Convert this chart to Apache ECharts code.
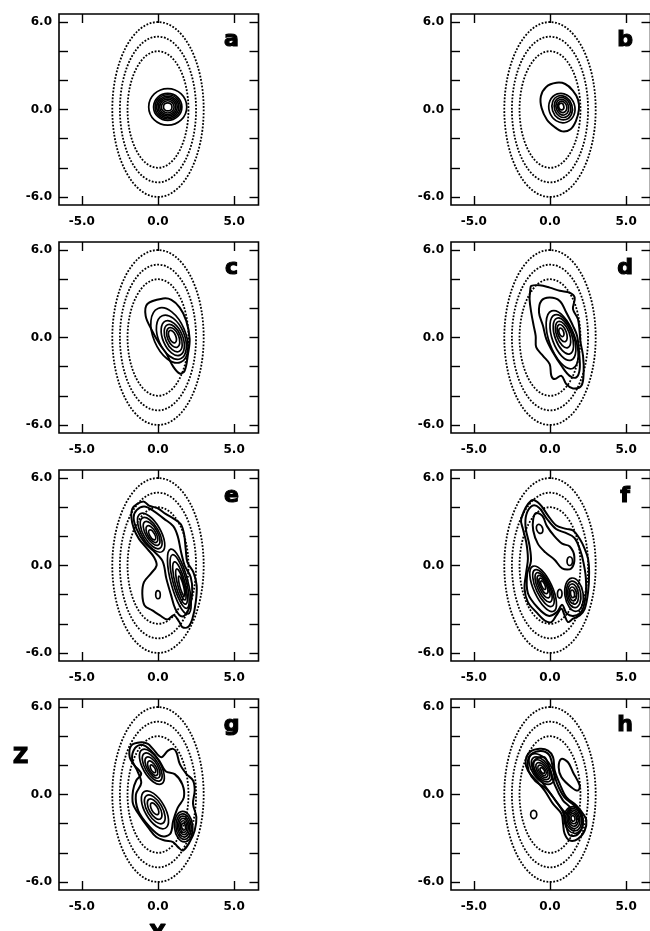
<!DOCTYPE html>
<html>
<head>
<meta charset="utf-8">
<script src="https://cdn.jsdelivr.net/npm/echarts@6/dist/echarts.min.js"></script>
<style>
  html, body { margin: 0; padding: 0; background: #fff; }
  #chart { width: 650px; height: 931px; }
</style>
</head>
<body>
<div id="chart"></div>
<script>
// axis ticks / labels (Y horizontal, Z vertical)
const xTicks = [-5, 0, 5];
const xLabels = [-5, 0, 5];
const yTicks = [-6, -4, -2, 0, 2, 4, 6];
const yLabels = [-6, 0, 6];
const panelNames = ['a', 'b', 'c', 'd', 'e', 'f', 'g', 'h'];

// dotted reference ellipses: [centerY, centerZ, halfWidth, halfHeight, tiltDeg]
const guideEllipses = [[0, 0, 3, 6, 0], [0, 0, 2.5, 5, 0], [0, 0, 2, 4, 0]];

// nested contour rings: [centerY, centerZ, halfWidth, halfHeight, tiltDeg]
const ringsA = [[0.64, 0.18, 1.25, 1.25, 0], [0.64, 0.18, 0.93, 0.93, 0], [0.64, 0.18, 0.83, 0.83, 0],
  [0.64, 0.18, 0.73, 0.73, 0], [0.64, 0.18, 0.63, 0.63, 0], [0.64, 0.18, 0.53, 0.53, 0],
  [0.64, 0.18, 0.42, 0.42, 0], [0.64, 0.18, 0.28, 0.28, 0]];
const ringsB = [[0.78, 0.1, 0.85, 1.02, 18], [0.8, 0.12, 0.66, 0.85, 18], [0.82, 0.14, 0.53, 0.7, 18],
  [0.81, 0.16, 0.41, 0.55, 18], [0.8, 0.18, 0.3, 0.4, 18], [0.74, 0.2, 0.17, 0.23, 15]];
const ringsC = [[0.75, 0.15, 1.05, 2.0, 23], [0.88, 0.02, 0.85, 1.6, 23], [0.97, -0.04, 0.65, 1.27, 23],
  [1.0, -0.04, 0.5, 1.0, 23], [1.0, 0.0, 0.37, 0.72, 23], [0.95, 0.06, 0.22, 0.46, 23]];
const ringsD = [[0.8, -0.15, 0.85, 2.1, 20], [0.85, 0.0, 0.7, 1.65, 20], [0.88, 0.1, 0.55, 1.3, 20],
  [0.86, 0.2, 0.42, 0.95, 20], [0.8, 0.3, 0.28, 0.62, 20], [0.75, 0.35, 0.15, 0.3, 20]];
const ringsE = [[-0.45, 2.25, 0.62, 1.5, 30], [-0.45, 2.22, 0.5, 1.2, 30], [-0.42, 2.2, 0.38, 0.92, 30],
  [-0.4, 2.15, 0.27, 0.65, 30], [-0.38, 2.1, 0.16, 0.38, 30],
  [1.4, -1.1, 0.55, 2.3, 15], [1.42, -1.1, 0.43, 1.9, 15], [1.45, -1.2, 0.32, 1.5, 15],
  [1.5, -1.3, 0.21, 1.1, 15], [1.55, -1.4, 0.12, 0.7, 15], [0.0, -2.0, 0.15, 0.28, 0]];
const ringsF = [[-0.68, 2.51, 0.2, 0.32, 20], [1.3, 0.3, 0.18, 0.3, 0], [0.64, -1.94, 0.15, 0.3, 0],
  [-0.45, -1.6, 0.6, 1.7, 25], [-0.43, -1.55, 0.48, 1.38, 25], [-0.42, -1.5, 0.38, 1.1, 25],
  [-0.42, -1.45, 0.29, 0.84, 25], [-0.43, -1.4, 0.2, 0.58, 25], [-0.45, -1.35, 0.11, 0.32, 25],
  [1.58, -2.0, 0.6, 1.15, 8], [1.55, -1.98, 0.47, 0.92, 8], [1.52, -1.96, 0.35, 0.7, 8],
  [1.5, -1.95, 0.24, 0.48, 8], [1.48, -1.94, 0.13, 0.26, 8]];
const ringsG = [[-0.4, 1.9, 0.58, 1.35, 30], [-0.38, 1.88, 0.46, 1.08, 30], [-0.36, 1.85, 0.35, 0.82, 30],
  [-0.35, 1.8, 0.24, 0.56, 30], [-0.33, 1.76, 0.13, 0.3, 30],
  [-0.2, -1.05, 0.65, 1.45, 30], [-0.21, -1.02, 0.5, 1.1, 30], [-0.22, -1.0, 0.35, 0.78, 30],
  [-0.22, -0.98, 0.2, 0.45, 30],
  [1.68, -2.2, 0.6, 1.05, 5], [1.68, -2.2, 0.5, 0.88, 5], [1.68, -2.2, 0.4, 0.72, 5],
  [1.68, -2.2, 0.31, 0.56, 5], [1.68, -2.2, 0.22, 0.4, 5], [1.68, -2.2, 0.13, 0.24, 5]];
const ringsH = [[-0.55, 1.75, 0.62, 1.2, 35], [-0.55, 1.72, 0.5, 0.98, 35], [-0.54, 1.7, 0.4, 0.78, 35],
  [-0.53, 1.68, 0.3, 0.58, 35], [-0.52, 1.66, 0.2, 0.4, 35], [-0.5, 1.64, 0.11, 0.22, 35],
  [1.55, -1.75, 0.62, 0.92, 10], [1.55, -1.72, 0.52, 0.78, 10], [1.54, -1.7, 0.42, 0.64, 10],
  [1.53, -1.68, 0.33, 0.5, 10], [1.52, -1.66, 0.23, 0.35, 10], [1.51, -1.64, 0.13, 0.2, 10],
  [-1.07, -1.37, 0.2, 0.28, 0]];

// irregular contour lines, as closed [Y, Z] loops
const loopsA = [];
const loopsB = [
  [[0.42, 1.83], [1.0, 1.75], [1.5, 1.3], [1.84, 0.68], [1.9, 0.0], [1.7, -0.8], [1.35, -1.35],
   [0.81, -1.5], [0.3, -1.2], [-0.2, -0.7], [-0.55, 0.1], [-0.6, 0.9], [-0.25, 1.55]]
];
const loopsC = [
  [[0.33, 2.67], [0.88, 2.58], [1.43, 2.05], [1.86, 1.14], [2.08, -0.11], [1.97, -1.14], [1.75, -2.28],
   [1.43, -2.47], [1.0, -2.0], [0.55, -1.1], [0.11, -0.46], [-0.44, 0.57], [-0.81, 1.48], [-0.7, 2.3]]
];
const loopsD = [
  [[-1.23, 3.54], [-0.68, 3.58], [-0.02, 3.42], [0.64, 3.2], [1.29, 3.08], [1.62, 2.74], [1.51, 1.94],
   [1.84, 1.26], [1.95, 0.34], [2.0, -0.3], [2.17, -1.26], [2.21, -2.4], [2.06, -3.31], [1.51, -3.49],
   [1.07, -3.2], [0.75, -2.63], [0.31, -2.85], [0.09, -2.63], [-0.02, -1.83], [-0.46, -1.26],
   [-0.9, -0.68], [-0.94, 0.11], [-1.07, 0.8], [-1.23, 1.71], [-1.34, 2.63], [-1.29, 3.31]],
  [[-0.02, 2.74], [0.64, 2.51], [1.07, 1.71], [1.51, 0.8], [1.78, 0.11], [1.91, -1.03], [1.95, -2.17],
   [1.73, -2.74], [1.29, -2.63], [0.75, -1.94], [0.2, -1.03], [-0.24, -0.11], [-0.46, 0.8],
   [-0.72, 1.71], [-0.57, 2.51]]
];
const loopsE = [
  [[-1.69, 3.88], [-1.36, 4.22], [-0.92, 4.38], [-0.59, 4.11], [-0.04, 3.93], [0.5, 3.54], [1.05, 3.2],
   [1.49, 2.85], [1.71, 2.17], [1.82, 1.14], [1.93, 0.23], [2.32, -0.46], [2.54, -1.37], [2.48, -2.51],
   [2.26, -3.65], [1.97, -4.22], [1.6, -4.22], [1.38, -3.84], [1.05, -3.42], [0.61, -3.7], [0.13, -3.42],
   [-0.37, -3.08], [-0.88, -2.74], [-1.03, -1.94], [-0.92, -1.14], [-0.48, -0.57], [-0.09, 0.0],
   [-0.26, 0.57], [-0.7, 1.14], [-1.25, 1.83], [-1.58, 2.51], [-1.75, 3.31]],
  [[-1.4, 3.8], [-0.9, 4.05], [-0.3, 3.75], [0.4, 3.2], [1.0, 2.7], [1.3, 2.0], [1.5, 1.0], [1.75, 0.0],
   [2.15, -0.8], [2.25, -1.8], [2.05, -2.9], [1.6, -3.5], [1.15, -3.0], [0.85, -2.0], [0.55, -0.9],
   [0.3, 0.3], [-0.3, 1.0], [-0.9, 1.6], [-1.4, 2.5], [-1.6, 3.3]]
];
const loopsF = [
  [[-1.23, 4.45], [-0.68, 4.22], [-0.13, 3.42], [0.42, 2.74], [1.07, 2.51], [1.51, 2.4], [1.95, 1.83],
   [2.28, 1.14], [2.5, 0.46], [2.57, -0.46], [2.5, -1.83], [2.28, -2.97], [1.95, -3.42], [1.51, -3.65],
   [1.18, -3.88], [0.96, -3.42], [0.75, -2.97], [0.42, -3.42], [0.09, -3.88], [-0.35, -3.77],
   [-0.9, -3.2], [-1.45, -2.51], [-1.67, -1.6], [-1.56, -0.46], [-1.45, 0.46], [-1.56, 1.6],
   [-1.78, 2.51], [-1.89, 3.2]],
  [[-1.15, 4.1], [-0.7, 3.95], [-0.2, 3.2], [0.4, 2.5], [1.0, 2.25], [1.6, 1.9], [2.0, 1.0], [2.2, 0.2],
   [2.35, -0.8], [2.35, -2.0], [2.1, -3.1], [1.6, -3.45], [1.1, -3.3], [0.8, -2.7], [0.45, -3.2],
   [-0.1, -3.45], [-0.8, -2.9], [-1.45, -1.9], [-1.5, -0.6], [-1.25, 0.3], [-1.35, 1.4], [-1.6, 2.6],
   [-1.55, 3.5]],
  [[-0.9, 3.6], [-0.5, 3.4], [-0.2, 2.7], [0.3, 2.0], [0.8, 1.5], [1.3, 1.3], [1.6, 0.6], [1.4, -0.2],
   [0.8, -0.2], [0.3, 0.4], [-0.3, 0.9], [-0.8, 1.5], [-1.1, 2.4], [-1.1, 3.2]]
];
const loopsG = [
  [[-1.75, 3.36], [-1.1, 3.58], [-0.66, 3.47], [-0.33, 3.13], [0.22, 2.56], [0.66, 3.01], [0.99, 3.13],
   [1.21, 2.9], [1.43, 2.1], [1.86, 1.42], [2.3, 0.96], [2.41, 0.27], [2.3, -0.64], [2.52, -1.55],
   [2.41, -2.47], [2.08, -3.26], [1.64, -3.84], [1.32, -3.61], [0.99, -3.26], [0.44, -3.15],
   [-0.11, -2.92], [-0.66, -2.24], [-1.21, -1.44], [-1.64, -0.64], [-1.64, 0.27], [-1.43, 0.96],
   [-1.1, 1.42], [-1.54, 1.99], [-1.86, 2.56]],
  [[-1.5, 3.2], [-1.0, 3.4], [-0.5, 3.05], [0.1, 2.3], [0.5, 1.6], [1.1, 1.4], [1.6, 0.7], [1.7, -0.2],
   [1.3, -0.9], [1.0, -1.8], [0.8, -2.7], [0.2, -2.85], [-0.6, -2.15], [-1.3, -1.1], [-1.45, 0.0],
   [-1.1, 0.8], [-1.35, 1.6], [-1.7, 2.4]]
];
const loopsH = [
  [[-1.34, 2.9], [-0.68, 3.13], [-0.13, 3.01], [0.2, 2.56], [0.31, 1.64], [0.64, 0.73], [1.07, -0.18],
   [1.73, -0.75], [2.17, -1.32], [2.39, -1.78], [2.28, -2.47], [1.84, -3.04], [1.29, -3.15],
   [0.96, -2.69], [0.86, -2.01], [0.75, -1.32], [0.2, -0.64], [-0.35, 0.27], [-0.9, 0.96],
   [-1.45, 1.64], [-1.6, 2.28]],
  [[0.75, 2.44], [1.18, 2.21], [1.51, 1.53], [1.95, 0.62], [1.84, 0.27], [1.4, 0.5], [0.75, 1.19],
   [0.57, 1.87]],
  [[-1.25, 2.75], [-0.6, 2.98], [-0.05, 2.7], [0.2, 1.8], [0.45, 0.8], [0.95, -0.2], [1.6, -0.75],
   [2.05, -1.3], [2.15, -2.1], [1.8, -2.75], [1.3, -2.8], [1.05, -2.1], [0.85, -1.2], [0.35, -0.4],
   [-0.25, 0.4], [-0.95, 0.9], [-1.4, 1.6], [-1.45, 2.3]],
  [[-0.9, 2.45], [-0.35, 2.55], [0.0, 1.7], [0.3, 0.7], [0.85, -0.4], [1.35, -0.95], [1.1, -1.3],
   [0.6, -0.75], [0.05, 0.05], [-0.45, 0.75], [-0.9, 1.3], [-1.15, 1.95]]
];

const panels = [
  { rings: ringsA, loops: loopsA }, { rings: ringsB, loops: loopsB },
  { rings: ringsC, loops: loopsC }, { rings: ringsD, loops: loopsD },
  { rings: ringsE, loops: loopsE }, { rings: ringsF, loops: loopsF },
  { rings: ringsG, loops: loopsG }, { rings: ringsH, loops: loopsH }
];

// layout
const colLeft = [59, 451];
const rowTop = [14, 242, 470, 699];
const gridW = 199.5;
const gridH = 191;
const font = 'DejaVu Sans';

function ellipseSeries (idx, data, dashed, width) {
  return {
    type: 'custom',
    xAxisIndex: idx * 2,
    yAxisIndex: idx * 2,
    silent: true,
    clip: false,
    encode: { x: 0, y: 1 },
    data: data,
    renderItem: function (params, api) {
      const c = api.coord([api.value(0), api.value(1)]);
      const s = api.size([api.value(2), api.value(3)]);
      return {
        type: 'ellipse',
        x: c[0],
        y: c[1],
        rotation: api.value(4) * Math.PI / 180,
        shape: { cx: 0, cy: 0, rx: s[0], ry: s[1] },
        style: {
          fill: 'none',
          stroke: '#000',
          lineWidth: width,
          lineDash: dashed ? [1.8, 1.6] : null
        }
      };
    }
  };
}

function loopSeries (idx, loops, width) {
  return {
    type: 'custom',
    xAxisIndex: idx * 2,
    yAxisIndex: idx * 2,
    silent: true,
    clip: false,
    encode: { x: 0, y: 1 },
    data: loops.map((l, k) => [l[0][0], l[0][1], k]),
    renderItem: function (params, api) {
      const pts = loops[api.value(2)].map(p => api.coord(p));
      return {
        type: 'polygon',
        shape: { points: pts, smooth: 0.35 },
        style: { fill: 'none', stroke: '#000', lineWidth: width }
      };
    }
  };
}

const grids = [], xAxes = [], yAxes = [], series = [], graphics = [];
const tickStyle = { color: '#000', width: 1.4 };
const labelStyle = { color: '#000', fontFamily: font, fontWeight: 'bold', fontSize: 12 };

panels.forEach((p, i) => {
  const left = colLeft[i % 2];
  const top = rowTop[Math.floor(i / 2)];
  grids.push({
    left: left, top: top, width: gridW, height: gridH,
    show: true, borderColor: '#000', borderWidth: 1.6, outerBoundsMode: 'none'
  });
  ['bottom', 'top'].forEach(pos => {
    xAxes.push({
      gridIndex: i, type: 'value', position: pos, min: -6.5, max: 6.6,
      axisLine: { show: false, onZero: false },
      splitLine: { show: false },
      axisTick: { inside: true, length: 9, customValues: xTicks, lineStyle: tickStyle },
      axisLabel: Object.assign({
        show: pos === 'bottom', customValues: xLabels, margin: 11,
        formatter: v => Number(v).toFixed(1)
      }, labelStyle)
    });
  });
  ['left', 'right'].forEach(pos => {
    yAxes.push({
      gridIndex: i, type: 'value', position: pos, min: -6.55, max: 6.55,
      axisLine: { show: false, onZero: false },
      splitLine: { show: false },
      axisTick: { inside: true, length: 9, customValues: yTicks, lineStyle: tickStyle },
      axisLabel: Object.assign({
        show: pos === 'left', customValues: yLabels, margin: 7,
        formatter: v => Number(v).toFixed(1)
      }, labelStyle)
    });
  });
  series.push(ellipseSeries(i, guideEllipses, true, 1.8));
  series.push(ellipseSeries(i, p.rings, false, 1.7));
  series.push(loopSeries(i, p.loops, 2));
  // panel letter, drawn heavy like the original
  graphics.push({
    type: 'text',
    x: left + (i % 2 ? 174 : 172.5),
    y: top + 26,
    style: {
      text: panelNames[i], fill: '#000', stroke: '#000', lineWidth: 1.2,
      font: 'bold 22px ' + font, textAlign: 'center', textVerticalAlign: 'middle'
    }
  });
});

graphics.push({
  type: 'text', x: 20.5, y: 758,
  style: { text: 'Z', fill: '#000', stroke: '#000', lineWidth: 1.2, font: 'bold 21px ' + font,
    textAlign: 'center', textVerticalAlign: 'middle' }
});
graphics.push({
  type: 'text', x: 157.5, y: 935,
  style: { text: 'Y', fill: '#000', stroke: '#000', lineWidth: 1.2, font: 'bold 21px ' + font,
    textAlign: 'center', textVerticalAlign: 'middle' }
});

const chart = echarts.init(document.getElementById('chart'));
chart.setOption({
  animation: false,
  backgroundColor: '#fff',
  grid: grids,
  xAxis: xAxes,
  yAxis: yAxes,
  series: series,
  graphic: graphics
});
</script>
</body>
</html>
